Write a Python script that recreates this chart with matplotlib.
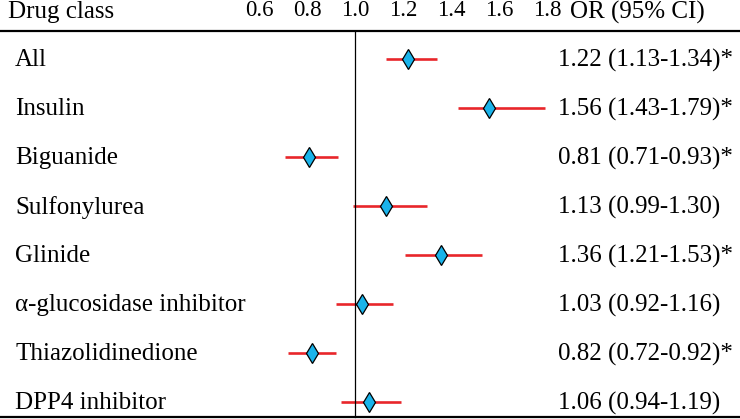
import numpy as np
import matplotlib
matplotlib.use("Agg")
import matplotlib.pyplot as plt
from matplotlib.transforms import blended_transform_factory

# datos del forest plot
clases = ["All", "Insulin", "Biguanide", "Sulfonylurea", "Glinide",
          "α-glucosidase inhibitor", "Thiazolidinedione", "DPP4 inhibitor"]
odds = [1.22, 1.56, 0.81, 1.13, 1.36, 1.03, 0.82, 1.06]
ci_bajo = [1.13, 1.43, 0.71, 0.99, 1.21, 0.92, 0.72, 0.94]
ci_alto = [1.34, 1.79, 0.93, 1.30, 1.53, 1.16, 0.92, 1.19]
signif = [True, True, True, False, True, False, True, False]
ticks = [0.6, 0.8, 1.0, 1.2, 1.4, 1.6, 1.8]

plt.rcParams['font.family'] = ['Liberation Serif', 'DejaVu Serif']

fig = plt.figure(figsize=(7.4, 4.19), dpi=100)
ax = fig.add_axes([0, 0, 1, 1])
ax.axis("off")

# escala: 1.0 en x=355 px, 240 px por unidad; filas cada 49 px desde y=59
ax.set_xlim(1 - 355/240, 1 + 385/240)
ax.set_ylim((419 - 59)/49, -59/49)

y = np.arange(len(clases))
ax.hlines(y, ci_bajo, ci_alto, color="#e8262a", lw=1.9, zorder=2)
ax.plot(odds, y, "d", ms=10, mfc="#1ab3ea", mec="black", mew=0.9, zorder=3)

# lineas de la tabla
ax.axvline(1.0, ymin=(419 - 417)/419, ymax=(419 - 31)/419, color="black", lw=0.9)
ax.axhline(-28/49, color="black", lw=1.6)
ax.axhline(358/49, color="black", lw=1.6)

izq = blended_transform_factory(ax.transAxes, ax.transData)
y_head = -47/49

ax.text(8/740, y_head, "Drug class", transform=izq, fontsize=18, va="center")
ax.text(570/740, y_head, "OR (95% CI)", transform=izq, fontsize=18, va="center")
for t in ticks:
    ax.text(t, y_head - 0.03, "%.1f" % t, fontsize=16.5, ha="center", va="center")

for i in range(len(clases)):
    ax.text(15/740, y[i] + 0.03, clases[i], transform=izq, fontsize=18, va="center")
    txt = "%.2f (%.2f-%.2f)" % (odds[i], ci_bajo[i], ci_alto[i])
    if signif[i]:
        txt += "*"
    ax.text(558/740, y[i] + 0.03, txt, transform=izq, fontsize=18, va="center")

plt.savefig("out.png", dpi=100)
